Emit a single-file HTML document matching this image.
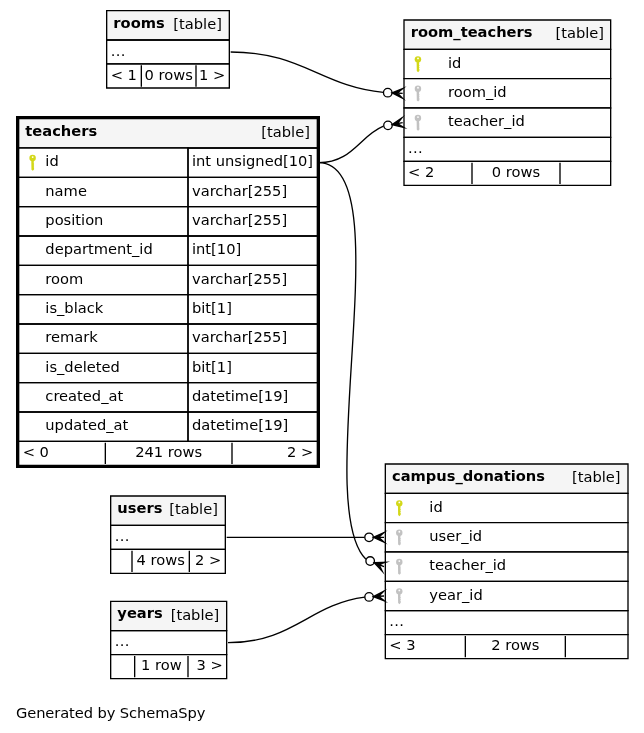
<!DOCTYPE html>
<html lang="en">
<head>
<meta charset="utf-8">
<title>teachers - one degree relationships</title>
<style>
html,body{margin:0;padding:0;background:#ffffff;}
svg{display:block;will-change:transform;}
svg polygon{stroke-miterlimit:10;}
svg text{font-family:"DejaVu Sans", "Liberation Sans", sans-serif;font-size:11px;fill:#000000;}
</style>
</head>
<body>
<svg width="644" height="733" viewBox="0 0 483 549.75">
<g id="graph0" class="graph" transform="scale(1 1) rotate(0) translate(4 546)">
<polygon fill="#ffffff" stroke="none" points="-4,4 -4,-546 479,-546 479,4 -4,4"/>
<text x="7.95" y="-7.2" textLength="142.1" lengthAdjust="spacing">Generated by SchemaSpy</text>
<g id="node1" class="node">
<polygon fill="#ffffff" stroke="none" points="285,-52 285,-198 467,-198 467,-52 285,-52"/>
<polygon fill="#f5f5f5" stroke="none" points="285,-176 285,-198 467,-198 467,-176 285,-176"/>
<polygon fill="none" stroke="black" points="285,-176 285,-198 467,-198 467,-176 285,-176"/>
<text x="290" y="-185.2" font-weight="bold">campus_donations</text>
<text x="425" y="-184.2">[table]</text>
<polygon fill="#ffffff" stroke="black" points="285,-154 285,-176 467,-176 467,-154 285,-154"/>
<text x="318" y="-162.2">id</text>
<polygon fill="#ffffff" stroke="black" points="285,-132 285,-154 467,-154 467,-132 285,-132"/>
<text x="318" y="-140.2">user_id</text>
<polygon fill="#ffffff" stroke="black" points="285,-110 285,-132 467,-132 467,-110 285,-110"/>
<text x="318" y="-118.2">teacher_id</text>
<polygon fill="#ffffff" stroke="black" points="285,-88 285,-110 467,-110 467,-88 285,-88"/>
<text x="318" y="-96.2">year_id</text>
<polygon fill="none" stroke="black" points="285,-70 285,-88 467,-88 467,-70 285,-70"/>
<text x="288" y="-76.2" letter-spacing="0.26">...</text>
<polygon fill="#ffffff" stroke="black" points="285,-52 285,-70 467,-70 467,-52 285,-52"/>
<path fill="none" stroke="black" d="M345,-69V-53M420,-69V-53"/>
<text x="288" y="-58.2">&lt; 3</text>
<text text-anchor="middle" x="382.5" y="-58.2">2 rows</text>
</g>
<g id="node2" class="node">
<polygon fill="#ffffff" stroke="none" points="8,-195 8,-459 236,-459 236,-195 8,-195"/>
<polygon fill="#f5f5f5" stroke="none" points="10,-435 10,-457 234,-457 234,-435 10,-435"/>
<polygon fill="none" stroke="black" points="10,-435 10,-457 234,-457 234,-435 10,-435"/>
<text x="15" y="-444.2" font-weight="bold">teachers</text>
<text x="192" y="-443.2">[table]</text>
<polygon fill="#ffffff" stroke="black" points="10,-413 10,-435 137,-435 137,-413 10,-413"/>
<text x="30" y="-421.2">id</text>
<polygon fill="none" stroke="black" points="137,-413 137,-435 234,-435 234,-413 137,-413"/>
<text x="140" y="-421.2">int unsigned[10]</text>
<polygon fill="none" stroke="black" points="10,-391 10,-413 137,-413 137,-391 10,-391"/>
<text x="30" y="-399.2">name</text>
<polygon fill="none" stroke="black" points="137,-391 137,-413 234,-413 234,-391 137,-391"/>
<text x="140" y="-399.2">varchar[255]</text>
<polygon fill="none" stroke="black" points="10,-369 10,-391 137,-391 137,-369 10,-369"/>
<text x="30" y="-377.2">position</text>
<polygon fill="none" stroke="black" points="137,-369 137,-391 234,-391 234,-369 137,-369"/>
<text x="140" y="-377.2">varchar[255]</text>
<polygon fill="none" stroke="black" points="10,-347 10,-369 137,-369 137,-347 10,-347"/>
<text x="30" y="-355.2">department_id</text>
<polygon fill="none" stroke="black" points="137,-347 137,-369 234,-369 234,-347 137,-347"/>
<text x="140" y="-355.2">int[10]</text>
<polygon fill="none" stroke="black" points="10,-325 10,-347 137,-347 137,-325 10,-325"/>
<text x="30" y="-333.2">room</text>
<polygon fill="none" stroke="black" points="137,-325 137,-347 234,-347 234,-325 137,-325"/>
<text x="140" y="-333.2">varchar[255]</text>
<polygon fill="none" stroke="black" points="10,-303 10,-325 137,-325 137,-303 10,-303"/>
<text x="30" y="-311.2">is_black</text>
<polygon fill="none" stroke="black" points="137,-303 137,-325 234,-325 234,-303 137,-303"/>
<text x="140" y="-311.2">bit[1]</text>
<polygon fill="none" stroke="black" points="10,-281 10,-303 137,-303 137,-281 10,-281"/>
<text x="30" y="-289.2">remark</text>
<polygon fill="none" stroke="black" points="137,-281 137,-303 234,-303 234,-281 137,-281"/>
<text x="140" y="-289.2">varchar[255]</text>
<polygon fill="none" stroke="black" points="10,-259 10,-281 137,-281 137,-259 10,-259"/>
<text x="30" y="-267.2">is_deleted</text>
<polygon fill="none" stroke="black" points="137,-259 137,-281 234,-281 234,-259 137,-259"/>
<text x="140" y="-267.2">bit[1]</text>
<polygon fill="none" stroke="black" points="10,-237 10,-259 137,-259 137,-237 10,-237"/>
<text x="30" y="-245.2">created_at</text>
<polygon fill="none" stroke="black" points="137,-237 137,-259 234,-259 234,-237 137,-237"/>
<text x="140" y="-245.2">datetime[19]</text>
<polygon fill="none" stroke="black" points="10,-215 10,-237 137,-237 137,-215 10,-215"/>
<text x="30" y="-223.2">updated_at</text>
<polygon fill="none" stroke="black" points="137,-215 137,-237 234,-237 234,-215 137,-215"/>
<text x="140" y="-223.2">datetime[19]</text>
<polygon fill="#ffffff" stroke="black" points="10,-197 10,-215 234,-215 234,-197 10,-197"/>
<path fill="none" stroke="black" d="M75,-214V-198M170,-214V-198"/>
<text x="13" y="-203.2">&lt; 0</text>
<text text-anchor="middle" x="122.5" y="-203.2">241 rows</text>
<text text-anchor="end" x="231" y="-203.2">2 &gt;</text>
<polygon fill="none" stroke="black" stroke-width="2" points="9,-196 9,-458 235,-458 235,-196 9,-196"/>
</g>
<g id="edge1" class="edge">
<path fill="none" stroke="black" d="M270.45,-126.52C228.79,-167.58 297.75,-424 235,-424"/>
<polygon fill="black" stroke="black" points="276.59,-124.02 285.36,-124.33 280.3,-122.51 284,-121 284,-121 284,-121 280.3,-122.51 282.64,-117.67 276.59,-124.02 276.59,-124.02"/>
<ellipse fill="none" stroke="black" cx="273.63" cy="-125.22" rx="3.2" ry="3.2"/>
</g>
<g id="node3" class="node">
<polygon fill="#ffffff" stroke="none" points="79,-116 79,-174 165,-174 165,-116 79,-116"/>
<polygon fill="#f5f5f5" stroke="none" points="79,-152 79,-174 165,-174 165,-152 79,-152"/>
<polygon fill="none" stroke="black" points="79,-152 79,-174 165,-174 165,-152 79,-152"/>
<text x="84" y="-161.2" font-weight="bold">users</text>
<text x="123" y="-160.2">[table]</text>
<polygon fill="none" stroke="black" points="79,-134 79,-152 165,-152 165,-134 79,-134"/>
<text x="82" y="-140.2" letter-spacing="0.26">...</text>
<polygon fill="#ffffff" stroke="black" points="79,-116 79,-134 165,-134 165,-116 79,-116"/>
<path fill="none" stroke="black" d="M95,-133V-117M138,-133V-117"/>
<text text-anchor="middle" x="116.5" y="-122.2">4 rows</text>
<text text-anchor="end" x="162" y="-122.2">2 &gt;</text>
</g>
<g id="edge2" class="edge">
<path fill="none" stroke="black" d="M269.42,-143C228.55,-143 213.22,-143 166,-143"/>
<polygon fill="black" stroke="black" points="276,-143 284,-146.6 280,-143 284,-143 284,-143 284,-143 280,-143 284,-139.4 276,-143 276,-143"/>
<ellipse fill="none" stroke="black" cx="272.8" cy="-143" rx="3.2" ry="3.2"/>
</g>
<g id="node4" class="node">
<polygon fill="#ffffff" stroke="none" points="78.5,-37 78.5,-95 165.5,-95 165.5,-37 78.5,-37"/>
<polygon fill="#f5f5f5" stroke="none" points="79,-73 79,-95 166,-95 166,-73 79,-73"/>
<polygon fill="none" stroke="black" points="79,-73 79,-95 166,-95 166,-73 79,-73"/>
<text x="84" y="-82.2" font-weight="bold">years</text>
<text x="124" y="-81.2">[table]</text>
<polygon fill="none" stroke="black" points="79,-55 79,-73 166,-73 166,-55 79,-55"/>
<text x="82" y="-61.2" letter-spacing="0.26">...</text>
<polygon fill="#ffffff" stroke="black" points="79,-37 79,-55 166,-55 166,-37 79,-37"/>
<path fill="none" stroke="black" d="M97,-54V-38M137,-54V-38"/>
<text text-anchor="middle" x="117.0" y="-43.2">1 row</text>
<text text-anchor="end" x="163" y="-43.2">3 &gt;</text>
</g>
<g id="edge3" class="edge">
<path fill="none" stroke="black" d="M269.6,-98.1C227.69,-92.62 216.08,-64 167,-64"/>
<polygon fill="black" stroke="black" points="276.02,-98.5 283.78,-102.59 280.01,-98.75 284,-99 284,-99 284,-99 280.01,-98.75 284.22,-95.41 276.02,-98.5 276.02,-98.5"/>
<ellipse fill="none" stroke="black" cx="272.82" cy="-98.3" rx="3.2" ry="3.2"/>
</g>
<g id="node5" class="node">
<polygon fill="#ffffff" stroke="none" points="298.5,-407 298.5,-531 453.5,-531 453.5,-407 298.5,-407"/>
<polygon fill="#f5f5f5" stroke="none" points="299,-509 299,-531 454,-531 454,-509 299,-509"/>
<polygon fill="none" stroke="black" points="299,-509 299,-531 454,-531 454,-509 299,-509"/>
<text x="304" y="-518.2" font-weight="bold">room_teachers</text>
<text x="412.6" y="-517.2">[table]</text>
<polygon fill="#ffffff" stroke="black" points="299,-487 299,-509 454,-509 454,-487 299,-487"/>
<text x="332" y="-495.2">id</text>
<polygon fill="#ffffff" stroke="black" points="299,-465 299,-487 454,-487 454,-465 299,-465"/>
<text x="332" y="-473.2">room_id</text>
<polygon fill="#ffffff" stroke="black" points="299,-443 299,-465 454,-465 454,-443 299,-443"/>
<text x="332" y="-451.2">teacher_id</text>
<polygon fill="none" stroke="black" points="299,-425 299,-443 454,-443 454,-425 299,-425"/>
<text x="302" y="-431.2" letter-spacing="0.26">...</text>
<polygon fill="#ffffff" stroke="black" points="299,-407 299,-425 454,-425 454,-407 299,-407"/>
<path fill="none" stroke="black" d="M350,-424V-408M416,-424V-408"/>
<text x="302" y="-413.2">&lt; 2</text>
<text text-anchor="middle" x="383.0" y="-413.2">0 rows</text>
</g>
<g id="edge5" class="edge">
<path fill="none" stroke="black" d="M283.58,-451.34C265.62,-444 260.32,-424 235,-424"/>
<polygon fill="black" stroke="black" points="290.13,-452.55 297.35,-457.54 294.07,-453.27 298,-454 298,-454 298,-454 294.07,-453.27 298.65,-450.46 290.13,-452.55 290.13,-452.55"/>
<ellipse fill="none" stroke="black" cx="286.99" cy="-451.97" rx="3.2" ry="3.2"/>
</g>
<g id="node6" class="node">
<polygon fill="#ffffff" stroke="none" points="76,-480 76,-538 168,-538 168,-480 76,-480"/>
<polygon fill="#f5f5f5" stroke="none" points="76,-516 76,-538 168,-538 168,-516 76,-516"/>
<polygon fill="none" stroke="black" points="76,-516 76,-538 168,-538 168,-516 76,-516"/>
<text x="81" y="-525.2" font-weight="bold">rooms</text>
<text x="126" y="-524.2">[table]</text>
<polygon fill="none" stroke="black" points="76,-498 76,-516 168,-516 168,-498 76,-498"/>
<text x="79" y="-504.2" letter-spacing="0.26">...</text>
<polygon fill="#ffffff" stroke="black" points="76,-480 76,-498 168,-498 168,-480 76,-480"/>
<path fill="none" stroke="black" d="M102,-497V-481M143,-497V-481"/>
<text x="79" y="-486.2">&lt; 1</text>
<text text-anchor="middle" x="122.5" y="-486.2">0 rows</text>
<text text-anchor="end" x="165" y="-486.2">1 &gt;</text>
</g>
<g id="edge4" class="edge">
<path fill="none" stroke="black" d="M283.5,-476.68C236.72,-481.21 222.78,-507 169,-507"/>
<polygon fill="black" stroke="black" points="290.01,-476.37 298.17,-479.6 294,-476.19 298,-476 298,-476 298,-476 294,-476.19 297.83,-472.4 290.01,-476.37 290.01,-476.37"/>
<ellipse fill="none" stroke="black" cx="286.81" cy="-476.52" rx="3.2" ry="3.2"/>
</g>
<g transform="translate(20.45,-427.6)" fill="#d3d819"><circle cy="0.12" r="2.42"/><path d="M-1.0,1.6L0.95,1.6L0.9,3.6L.7,3.9L1.1,4.3L1.1,5L.7,5.4L1.1,5.8L1.1,6.5L.7,6.9L1.1,7.3L1.1,8.7L.15,9.75L-.85,8.9Z"/><circle cx="0.05" cy="-0.6" r="0.68" fill="#ffffff"/></g>
<g transform="translate(309.45,-501.6)" fill="#d3d819"><circle cy="0.12" r="2.42"/><path d="M-1.0,1.6L0.95,1.6L0.9,3.6L.7,3.9L1.1,4.3L1.1,5L.7,5.4L1.1,5.8L1.1,6.5L.7,6.9L1.1,7.3L1.1,8.7L.15,9.75L-.85,8.9Z"/><circle cx="0.05" cy="-0.6" r="0.68" fill="#ffffff"/></g>
<g transform="translate(309.45,-479.6)" fill="#c2c2c2"><circle cy="0.12" r="2.42"/><path d="M-1.0,1.6L0.95,1.6L0.9,3.6L.7,3.9L1.1,4.3L1.1,5L.7,5.4L1.1,5.8L1.1,6.5L.7,6.9L1.1,7.3L1.1,8.7L.15,9.75L-.85,8.9Z"/><circle cx="0.05" cy="-0.6" r="0.68" fill="#ffffff"/></g>
<g transform="translate(309.45,-457.6)" fill="#c2c2c2"><circle cy="0.12" r="2.42"/><path d="M-1.0,1.6L0.95,1.6L0.9,3.6L.7,3.9L1.1,4.3L1.1,5L.7,5.4L1.1,5.8L1.1,6.5L.7,6.9L1.1,7.3L1.1,8.7L.15,9.75L-.85,8.9Z"/><circle cx="0.05" cy="-0.6" r="0.68" fill="#ffffff"/></g>
<g transform="translate(295.45,-168.6)" fill="#d3d819"><circle cy="0.12" r="2.42"/><path d="M-1.0,1.6L0.95,1.6L0.9,3.6L.7,3.9L1.1,4.3L1.1,5L.7,5.4L1.1,5.8L1.1,6.5L.7,6.9L1.1,7.3L1.1,8.7L.15,9.75L-.85,8.9Z"/><circle cx="0.05" cy="-0.6" r="0.68" fill="#ffffff"/></g>
<g transform="translate(295.45,-146.6)" fill="#c2c2c2"><circle cy="0.12" r="2.42"/><path d="M-1.0,1.6L0.95,1.6L0.9,3.6L.7,3.9L1.1,4.3L1.1,5L.7,5.4L1.1,5.8L1.1,6.5L.7,6.9L1.1,7.3L1.1,8.7L.15,9.75L-.85,8.9Z"/><circle cx="0.05" cy="-0.6" r="0.68" fill="#ffffff"/></g>
<g transform="translate(295.45,-124.6)" fill="#c2c2c2"><circle cy="0.12" r="2.42"/><path d="M-1.0,1.6L0.95,1.6L0.9,3.6L.7,3.9L1.1,4.3L1.1,5L.7,5.4L1.1,5.8L1.1,6.5L.7,6.9L1.1,7.3L1.1,8.7L.15,9.75L-.85,8.9Z"/><circle cx="0.05" cy="-0.6" r="0.68" fill="#ffffff"/></g>
<g transform="translate(295.45,-102.6)" fill="#c2c2c2"><circle cy="0.12" r="2.42"/><path d="M-1.0,1.6L0.95,1.6L0.9,3.6L.7,3.9L1.1,4.3L1.1,5L.7,5.4L1.1,5.8L1.1,6.5L.7,6.9L1.1,7.3L1.1,8.7L.15,9.75L-.85,8.9Z"/><circle cx="0.05" cy="-0.6" r="0.68" fill="#ffffff"/></g>
</g>
</svg>
</body>
</html>
